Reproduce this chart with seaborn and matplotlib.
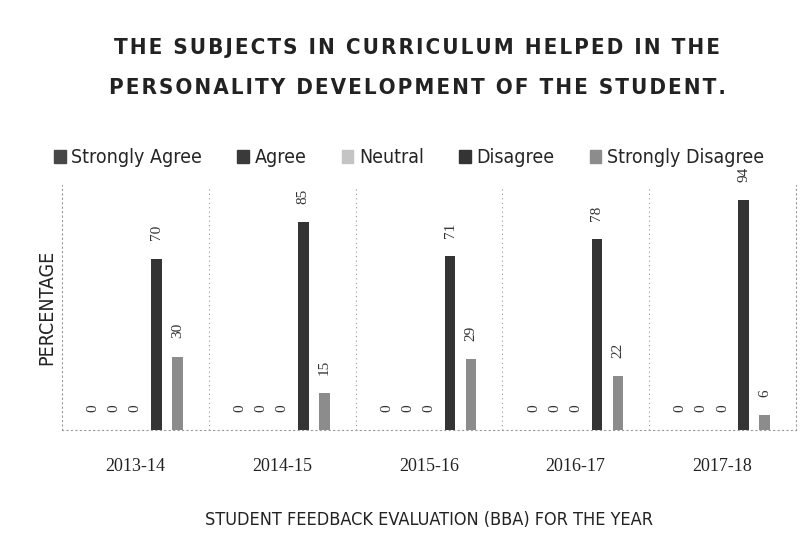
import matplotlib
matplotlib.use("Agg")
import matplotlib.pyplot as plt
import seaborn as sns
import pandas as pd

# ---- data ----
years = ["2013-14", "2014-15", "2015-16", "2016-17", "2017-18"]
responses = ["Strongly Agree", "Agree", "Neutral", "Disagree", "Strongly Disagree"]
strongly_agree = [0, 0, 0, 0, 0]
agree = [0, 0, 0, 0, 0]
neutral = [0, 0, 0, 0, 0]
disagree = [70, 85, 71, 78, 94]
strongly_disagree = [30, 15, 29, 22, 6]

colors = ["#474747", "#3a3a3a", "#c4c4c4", "#343434", "#8c8c8c"]

series = [strongly_agree, agree, neutral, disagree, strongly_disagree]
rows = []
for resp, vals in zip(responses, series):
    for yr, v in zip(years, vals):
        rows.append({"year": yr, "response": resp, "value": v})
df = pd.DataFrame(rows)

sns.set_theme(style="white")
plt.rcParams["font.family"] = ["DejaVu Sans"]
plt.rcParams["font.stretch"] = "condensed"

fig = plt.figure(figsize=(8.1, 5.48), dpi=100)
ax = fig.add_axes([0.0765, 0.2153, 0.906, 0.447])

sns.barplot(data=df, x="year", y="value", hue="response", hue_order=responses,
            palette=colors, width=0.72, gap=0.5, ax=ax, legend=False,
            edgecolor="none")

for cont in ax.containers:
    ax.bar_label(cont, fmt="%d", rotation=90, padding=13, fontsize=11,
                 family="Liberation Serif", color="#333333")

ax.set_xlim(-0.5, 4.5)
ax.set_ylim(0, 100)
ax.set_yticks([])

# dotted separators between years and dotted frame
for x in [0.5, 1.5, 2.5, 3.5]:
    ax.axvline(x, color="#9a9a9a", linestyle=(0, (1, 3)), linewidth=0.8, ymax=0.99)
for side in ["left", "right", "bottom"]:
    ax.spines[side].set_linestyle((0, (1, 3)))
    ax.spines[side].set_color("#9a9a9a")
    ax.spines[side].set_linewidth(0.8)
ax.spines["top"].set_visible(False)

ax.tick_params(axis="x", length=0, pad=20)
for lab in ax.get_xticklabels():
    lab.set_fontfamily("Liberation Serif")
    lab.set_fontsize(13)
    lab.set_color("#222222")

ax.set_xlabel("STUDENT FEEDBACK EVALUATION (BBA) FOR THE YEAR", fontsize=13,
              color="#222222", labelpad=26)
ax.set_ylabel("PERCENTAGE", fontsize=14, color="#222222", labelpad=4)

hair = "\u200a"
title1 = hair.join("THE SUBJECTS IN CURRICULUM HELPED IN THE")
title2 = hair.join("PERSONALITY DEVELOPMENT OF THE STUDENT.")
fig.text(0.515, 0.912, title1, ha="center", va="center", fontsize=16,
         fontweight="bold", color="#222222")
fig.text(0.515, 0.840, title2, ha="center", va="center", fontsize=16,
         fontweight="bold", color="#222222")

handles = [plt.Rectangle((0, 0), 1, 1, color=c) for c in colors]
fig.legend(handles, responses, loc="center", bbox_to_anchor=(0.505, 0.712),
           ncol=5, frameon=False, fontsize=14, handlelength=0.6,
           handleheight=0.6, handletextpad=0.3, columnspacing=1.8)

fig.savefig("out.png", dpi=100)
